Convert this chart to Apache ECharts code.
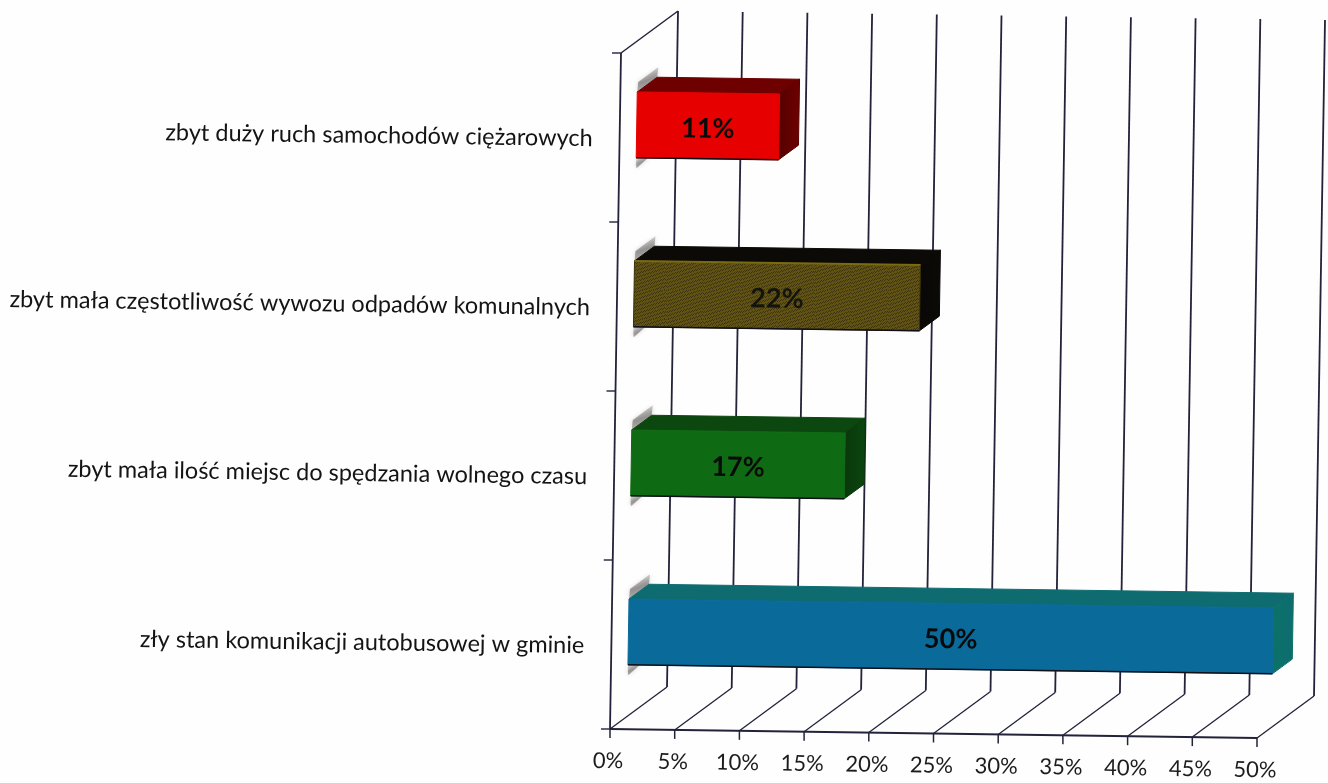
<!DOCTYPE html>
<html lang="pl">
<head>
  <meta charset="UTF-8">
  <title>Wykres</title>
  <style>
    * { box-sizing: border-box; margin:0; padding:0; }
    body { background: #fff; }
    #chart { width: 1328px; height: 783px; }
  </style>
  <script src="https://cdn.jsdelivr.net/npm/echarts@6/dist/echarts.min.js"></script>
</head>
<body>
  <div id="chart"></div>
  <script>
    // dane
    const categories = [
      'zbyt duży ruch samochodów ciężarowych',
      'zbyt mała częstotliwość wywozu odpadów komunalnych',
      'zbyt mała ilość miejsc do spędzania wolnego czasu',
      'zły stan komunikacji autobusowej w gminie'
    ];
    const values = [11, 22.1, 16.5, 49.8];
    const valueLabels = ['11%', '22%', '17%', '50%'];
    const valueTicks = [0, 5, 10, 15, 20, 25, 30, 35, 40, 45, 50];
    const valueTickLabels = ['0%', '5%', '10%', '15%', '20%', '25%', '30%', '35%', '40%', '45%', '50%'];

    // kolory: przód, góra, bok
    const frontColors = ['#e60000', '#5f5214', '#0f6a14', '#0a6a9a'];
    const topColors = ['#6e0000', '#0c0a06', '#0b470e', '#0e6c70'];
    const sideColors = ['#560000', '#0a0806', '#0a360c', '#0c7268'];

    const LINE = '#22223a';
    const FONT = 'Lato, sans-serif';
    const SLOPE = 9 / 647;           // skan jest lekko obrócony
    const LEAN = 11 / 676;
    const DEPTH = [57, -42];
    const BAR_FRONT = 0.3, BAR_BACK = 0.65, BAR_SHARE = 0.39;
    const TILT = -Math.atan(SLOPE);

    // tekstura oliwkowego słupka
    function oliveTexture() {
      const c = document.createElement('canvas');
      c.width = 37; c.height = 29;
      const g = c.getContext('2d');
      g.fillStyle = '#5f5214';
      g.fillRect(0, 0, 37, 29);
      for (let i = 0; i < 37; i++) {
        for (let j = 0; j < 29; j++) {
          const k = (i * i * 3 + j * j * 5 + i * j * 7) % 11;
          if (k < 3) { g.fillStyle = '#3f3610'; g.fillRect(i, j, 1, 1); }
          if (k === 7) { g.fillStyle = '#776818'; g.fillRect(i, j, 1, 1); }
        }
      }
      return c;
    }
    const olive = { image: oliveTexture(), repeat: 'repeat' };

    // rzut z siatki na skośną płaszczyznę wykresu
    function projector(cs) {
      const x0 = cs.x, y0 = cs.y + cs.height;
      return function (gx, gy, d) {
        const u = gx - x0, v = y0 - gy;
        return [x0 + u + v * LEAN + d * DEPTH[0], y0 + u * SLOPE - v + d * DEPTH[1]];
      };
    }

    function line(a, b, w, color) {
      return {
        type: 'line',
        shape: { x1: a[0], y1: a[1], x2: b[0], y2: b[1] },
        style: { stroke: color || LINE, lineWidth: w || 1.4 }
      };
    }

    // siatka wartości i etykiety osi X
    function renderValueTick(params, api) {
      const cs = params.coordSys, p = projector(cs);
      const gx = api.coord([api.value(0), 0])[0];
      const top = cs.y, bottom = cs.y + cs.height;
      const front = p(gx, bottom, 0), back = p(gx, bottom, 1), backTop = p(gx, top, 1);
      const under = [front[0], front[1] + 9];
      const kids = [
        line(front, back, 1.3),
        line(back, backTop, 1.8),
        line(front, under, 1.5),
        {
          type: 'text',
          x: front[0] - 2, y: front[1] + 32, rotation: TILT,
          style: {
            text: valueTickLabels[params.dataIndex], fill: '#1c1c1c',
            font: '22px ' + FONT, align: 'center', verticalAlign: 'middle'
          }
        }
      ];
      return { type: 'group', children: kids };
    }

    // lewa ściana, podziałki kategorii i ich opisy
    function renderCategory(params, api) {
      const cs = params.coordSys, p = projector(cs);
      const i = params.dataIndex;
      const gyMid = api.coord([0, i])[1];
      const band = api.size([0, 1])[1];
      const left = cs.x, right = cs.x + cs.width;
      const tickB = p(left, gyMid + band / 2, 0);
      const kids = [line(tickB, [tickB[0] - 9, tickB[1]], 1.4)];
      const mid = p(left, gyMid, 0);
      kids.push({
        type: 'text',
        x: mid[0] - 27, y: mid[1] + 1, rotation: TILT,
        style: {
          text: categories[i], fill: '#141414',
          font: '23.5px ' + FONT, align: 'right', verticalAlign: 'middle'
        }
      });
      if (i === 0) {
        const t = p(left, gyMid - band / 2, 0);
        kids.push(line(t, [t[0] - 9, t[1]], 1.4));
        kids.push(line(t, p(left, gyMid - band / 2, 1), 1.5));
        kids.push(line(t, p(left, cs.y + cs.height, 0), 1.8));
        kids.push(line(p(left, cs.y + cs.height, 0), p(right, cs.y + cs.height, 0), 2));
      }
      return { type: 'group', children: kids };
    }

    function poly(points, fill, stroke) {
      return {
        type: 'polygon',
        shape: { points: points },
        style: { fill: fill, stroke: stroke || fill, lineWidth: 1, lineJoin: 'round' }
      };
    }

    function smudge(a, b, c, d) {
      const el = poly([a, b, c, d], {
        type: 'linear', x: 0, y: 0, x2: 0.4, y2: 1,
        colorStops: [{ offset: 0, color: 'rgba(150,145,145,0.1)' }, { offset: 0.6, color: 'rgba(120,115,115,0.7)' }, { offset: 1, color: 'rgba(130,125,125,0.5)' }]
      }, 'rgba(0,0,0,0)');
      el.style.shadowBlur = 4;
      el.style.shadowColor = 'rgba(130,125,125,0.5)';
      return el;
    }

    // słupki 3D
    function renderBar(params, api) {
      const cs = params.coordSys, p = projector(cs);
      const i = params.dataIndex;
      const end = api.coord([api.value(0), i]);
      const gx0 = cs.x, gx1 = end[0], gy = end[1];
      const h = api.size([0, 1])[1] * BAR_SHARE / 2;
      const ftl = p(gx0, gy - h, BAR_FRONT), ftr = p(gx1, gy - h, BAR_FRONT);
      const fbl = p(gx0, gy + h, BAR_FRONT), fbr = p(gx1, gy + h, BAR_FRONT);
      const btl = p(gx0, gy - h, BAR_BACK), btr = p(gx1, gy - h, BAR_BACK);
      const bbr = p(gx1, gy + h, BAR_BACK);
      const mid = p((gx0 + gx1) / 2, gy, BAR_FRONT);
      const kids = [
        // cień na lewej ścianie
        smudge(ftl, btl, [btl[0] + 1, btl[1] - 10], [ftl[0] + 1, ftl[1] - 10]),
        smudge([fbl[0], fbl[1] - 1], [fbl[0] + 13, fbl[1] - 1], [fbl[0] + 1, fbl[1] + 10], [fbl[0], fbl[1] + 10]),
        poly([ftl, btl, btr, ftr], topColors[i]),
        poly([ftr, btr, bbr, fbr], {
          type: 'linear', x: 0, y: 0, x2: 1, y2: 0,
          colorStops: [{ offset: 0, color: sideColors[i] }, { offset: 1, color: topColors[i] }]
        }, sideColors[i]),
        poly([ftl, ftr, fbr, fbl], i === 1 ? olive : frontColors[i], i === 1 ? '#3a3008' : frontColors[i]),
        line(fbl, fbr, 1.5, '#101018')
      ];
      if (i === 1) kids.push(line(ftl, ftr, 2, '#7a6a12'));
      kids.push({
        type: 'text',
        x: mid[0], y: mid[1] + 3, rotation: TILT,
        style: {
          text: valueLabels[i], fill: i === 1 ? '#14140e' : '#0a0a0a',
          font: 'bold 27px ' + FONT, align: 'center', verticalAlign: 'middle'
        }
      });
      return { type: 'group', children: kids };
    }

    const chart = echarts.init(document.getElementById('chart'), null, { renderer: 'canvas' });
    chart.setOption({
      animation: false,
      backgroundColor: '#fefefe',
      grid: { left: 610, top: 53, width: 647, height: 676 },
      xAxis: { type: 'value', min: 0, max: 50, interval: 5, show: false },
      yAxis: { type: 'category', data: categories, inverse: true, show: false },
      series: [
        {
          type: 'custom', name: 'siatka', z: 1, clip: false,
          renderItem: renderValueTick,
          data: valueTicks.map(v => [v, 0]),
          encode: { x: 0, y: 1 }
        },
        {
          type: 'custom', name: 'kategorie', z: 2, clip: false,
          renderItem: renderCategory,
          data: categories.map((c, i) => [0, i]),
          encode: { x: 0, y: 1 }
        },
        {
          type: 'custom', name: 'słupki', z: 3, clip: false,
          renderItem: renderBar,
          data: values.map((v, i) => [v, i]),
          encode: { x: 0, y: 1 }
        }
      ]
    });
  </script>
</body>
</html>
